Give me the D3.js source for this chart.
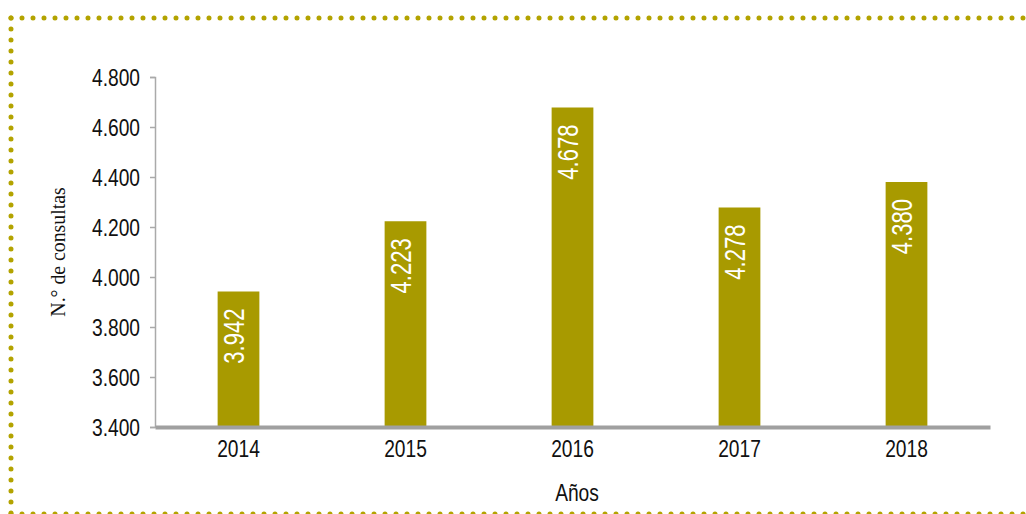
<!DOCTYPE html>
<html><head><meta charset="utf-8">
<script src="https://cdn.jsdelivr.net/npm/d3@7"></script>
<style>
html,body{margin:0;padding:0;background:#fff;}
svg{display:block;font-family:"Liberation Sans",Arial,sans-serif;}
</style></head>
<body>
<svg id="c" width="1026" height="514"></svg>
<script>
const years = ["2014","2015","2016","2017","2018"];
const consultas = [3942, 4223, 4678, 4278, 4380];
const yTicks = [3400, 3600, 3800, 4000, 4200, 4400, 4600, 4800];
const yTitle = "N.° de consultas";
const xTitle = "Años";

const svg = d3.select("#c");
const fmt = v => d3.format(",")(v).replace(/,/g, ".");
const gold = "#a89a00";
const dotColor = "#b3a300";
const sx = 0.8; // horizontal condensing to mimic the narrow font

// dotted frame
const frame = svg.append("g").attr("fill","none").attr("stroke",dotColor)
  .attr("stroke-width",5).attr("stroke-linecap","round").attr("stroke-dasharray","0 11");
frame.append("line").attr("x1",11).attr("y1",18).attr("x2",1030).attr("y2",18);
frame.append("line").attr("x1",11).attr("y1",18).attr("x2",11).attr("y2",520);
frame.append("line").attr("x1",11).attr("y1",514).attr("x2",1030).attr("y2",514);

const x = d3.scaleBand().domain(years).range([155, 990]).paddingInner(0.75).paddingOuter(0.375);
const y = d3.scaleLinear().domain([3400, 4800]).range([427, 77]);

// y axis
const yAxis = svg.append("g").attr("transform","translate(155,0)")
  .call(d3.axisLeft(y).tickValues(yTicks).tickFormat(fmt).tickSize(5).tickPadding(10));
yAxis.select(".domain").attr("stroke","#aaa").attr("stroke-width",1.5);
yAxis.selectAll(".tick line").attr("stroke","#aaa").attr("stroke-width",1.5);
yAxis.selectAll(".tick text").attr("font-size",24).attr("fill","#111")
  .attr("font-family","Liberation Sans, Arial, sans-serif")
  .attr("x",0).attr("dy","0.34em")
  .attr("transform",`translate(-15,0) scale(${sx},1)`);

// bars
svg.append("g").selectAll("rect").data(years).join("rect")
  .attr("x", d => x(d)).attr("width", x.bandwidth())
  .attr("y", (d,i) => y(consultas[i])).attr("height", (d,i) => y(3400) - y(consultas[i]))
  .attr("fill", gold);

// value labels
svg.append("g").selectAll("text").data(years).join("text")
  .attr("transform", (d,i) => `translate(${x(d)+x.bandwidth()/2+5},${y(consultas[i])+17}) rotate(-90) scale(0.76,1)`)
  .attr("text-anchor","end").attr("fill","#fff").attr("font-size",29)
  .text((d,i) => fmt(consultas[i]));

// x axis
const xAxis = svg.append("g").attr("transform","translate(0,427)")
  .call(d3.axisBottom(x).tickSize(0).tickPadding(12));
xAxis.select(".domain").attr("stroke","#a0a0a0").attr("stroke-width",4);
xAxis.selectAll(".tick text").attr("font-size",24).attr("fill","#111")
  .attr("font-family","Liberation Sans, Arial, sans-serif")
  .attr("y",30).attr("dy",0)
  .attr("transform",`scale(${sx},1)`);

// titles
svg.append("text").attr("transform","translate(65,252) rotate(-90) scale(0.9,1)")
  .attr("text-anchor","middle").attr("font-size",22).attr("fill","#111")
  .attr("font-family","Liberation Serif, serif").text(yTitle);
svg.append("text").attr("transform",`translate(577,501) scale(${sx},1)`)
  .attr("text-anchor","middle").attr("font-size",24).attr("fill","#111").text(xTitle);
</script>
</body></html>
